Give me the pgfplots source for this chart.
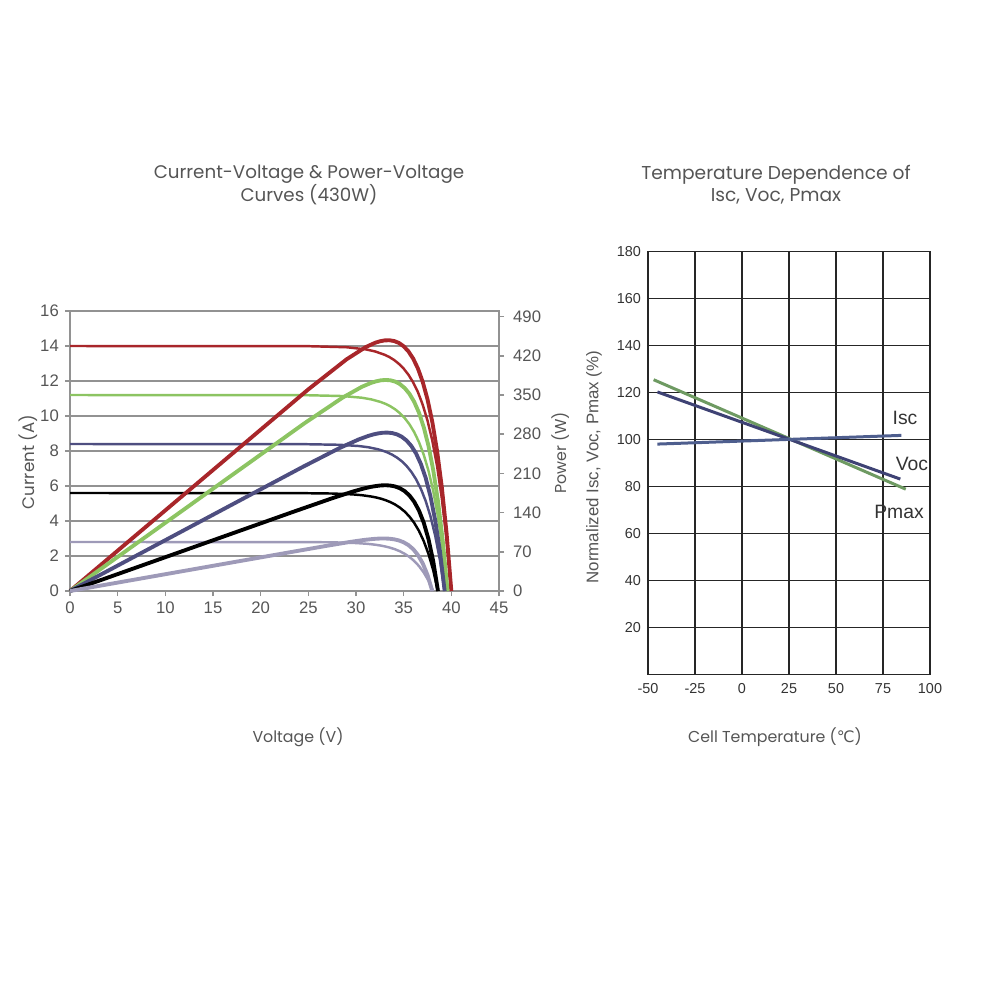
\documentclass[border=0pt]{standalone}
\usepackage{fontspec}
\setmainfont{Liberation Sans}
\newfontfamily\gothic{Poppins}
\newfontfamily\djv{DejaVu Sans}
\usepackage{pgfplots}
\pgfplotsset{compat=1.18}

\definecolor{ivred}{HTML}{A8262A}
\definecolor{ivgreen}{HTML}{8CC462}
\definecolor{ivpurple}{HTML}{4E4E80}
\definecolor{ivgray}{HTML}{9E9AB8}
\definecolor{gridgray}{HTML}{929292}
\definecolor{isccol}{HTML}{4E5E8E}
\definecolor{voccol}{HTML}{3E4274}
\definecolor{pmaxcol}{HTML}{6E9A62}
\definecolor{txt}{HTML}{555555}

\begin{document}
\begin{tikzpicture}
\useasboundingbox (0,0) rectangle (200mm,-200mm);

% ---------- left chart: current axis ----------
\begin{axis}[at={(14mm,-118.2mm)}, anchor=south west, scale only axis,
  width=85.8mm, height=56mm,
  xmin=0, xmax=45, ymin=0, ymax=16,
  xtick={0,5,...,45}, ytick={0,2,...,16},
  xtick pos=bottom, ytick pos=left, tick align=outside,
  major tick length=1mm,
  every tick/.style={gridgray, line width=0.3mm},
  ymajorgrids, grid style={gridgray, line width=0.3mm},
  axis line style={gridgray, line width=0.3mm},
  /pgf/number format/assume math mode=true,
  tick label style={font=\fontsize{9.5}{10}\selectfont, text=txt},
  clip=false]
% I-V curves (thin)
\addplot[ivred, line width=1.4pt] coordinates {(0,14.00) (25,13.99) (29,13.93) (31,13.81) (32,13.69) (33,13.50) (33.5,13.37) (34,13.20) (34.5,12.98) (35,12.71) (35.5,12.36) (36,11.92) (36.5,11.36) (37,10.64) (37.5,9.74) (38,8.60) (38.5,7.15) (39,5.30) (39.5,2.97) (40,0)};
\addplot[ivgreen, line width=1.4pt] coordinates {(0,11.2) (24.6,11.191) (28.6,11.141) (30.6,11.045) (31.6,10.951) (32.6,10.800) (33.1,10.693) (33.6,10.557) (34.1,10.384) (34.6,10.164) (35.1,9.886) (35.6,9.532) (36.1,9.084) (36.6,8.515) (37.1,7.794) (37.6,6.879) (38.1,5.718) (38.6,4.244) (39.1,2.373) (39.6,0)};
\addplot[ivpurple, line width=1.4pt] coordinates {(0,8.4) (24.3,8.393) (28.3,8.355) (30.3,8.284) (31.3,8.214) (32.3,8.100) (32.8,8.019) (33.3,7.918) (33.8,7.788) (34.3,7.623) (34.8,7.415) (35.3,7.149) (35.8,6.813) (36.3,6.387) (36.8,5.846) (37.3,5.159) (37.8,4.288) (38.3,3.183) (38.8,1.780) (39.3,0)};
\addplot[black, line width=1.4pt] coordinates {(0,5.6) (23.6,5.596) (27.6,5.570) (29.6,5.523) (30.6,5.476) (31.6,5.400) (32.1,5.346) (32.6,5.279) (33.1,5.192) (33.6,5.082) (34.1,4.943) (34.6,4.766) (35.1,4.542) (35.6,4.258) (36.1,3.897) (36.6,3.440) (37.1,2.859) (37.6,2.122) (38.1,1.187) (38.6,0)};
\addplot[ivgray, line width=1.4pt] coordinates {(0,2.8) (23.1,2.798) (27.1,2.785) (29.1,2.761) (30.1,2.738) (31.1,2.700) (31.6,2.673) (32.1,2.639) (32.6,2.596) (33.1,2.541) (33.6,2.472) (34.1,2.383) (34.6,2.271) (35.1,2.129) (35.6,1.949) (36.1,1.720) (36.6,1.429) (37.1,1.061) (37.6,0.593) (38.1,0)};
\end{axis}

% ---------- left chart: power axis ----------
\begin{axis}[at={(14mm,-118.2mm)}, anchor=south west, scale only axis,
  width=85.8mm, height=56mm,
  xmin=0, xmax=45, ymin=0, ymax=500,
  hide x axis, axis y line*=right,
  ytick={0,70,...,490}, tick align=outside,
  major tick length=1mm,
  every tick/.style={gridgray, line width=0.3mm},
  axis line style={gridgray, line width=0.3mm},
  /pgf/number format/assume math mode=true,
  yticklabel style={font=\fontsize{9.5}{10}\selectfont, text=txt, xshift=0.6mm},
  clip=false]
% P-V curves (thick)
\addplot[ivred, line width=2.2pt] coordinates {(0,0) (25,360.1) (29,413.6) (31,435.4) (32,443.2) (32.5,445.9) (33,447.5) (33.5,447.8) (34,446.4) (34.5,443.0) (35,437.0) (35.5,427.9) (36,414.9) (36.5,397.1) (37,373.4) (37.5,342.3) (38,302.2) (38.5,250.8) (39,185.7) (39.5,103.4) (40,0)};
\addplot[ivgreen, line width=2.2pt] coordinates {(0,0) (24.6,299.6) (28.6,345.4) (30.6,364.5) (31.6,371.8) (32.1,374.4) (32.6,376.2) (33.1,376.9) (33.6,376.3) (34.1,374.0) (34.6,369.6) (35.1,362.5) (35.6,352.3) (36.1,338.0) (36.6,318.6) (37.1,292.9) (37.6,259.4) (38.1,216.0) (38.6,160.5) (39.1,89.7) (39.6,0)};
\addplot[ivpurple, line width=2.2pt] coordinates {(0,0) (24.3,220.6) (28.3,255.5) (30.3,270.8) (31.3,277.0) (31.8,279.5) (32.3,281.4) (32.8,282.6) (33.3,282.9) (33.8,282.0) (34.3,279.7) (34.8,275.4) (35.3,268.8) (35.8,259.1) (36.3,245.6) (36.8,227.1) (37.3,202.5) (37.8,169.8) (38.3,127.1) (38.8,71.7) (39.3,0)};
\addplot[black, line width=2.2pt] coordinates {(0,0) (23.6,142.5) (27.6,166.2) (29.6,177.2) (30.6,182.1) (31.1,184.2) (31.6,186.1) (32.1,187.5) (32.6,188.5) (33.1,188.9) (33.6,188.3) (34.1,186.7) (34.6,183.5) (35.1,178.4) (35.6,170.7) (36.1,159.5) (36.6,143.9) (37.1,122.3) (37.6,92.9) (38.1,53.2) (38.6,0)};
\addplot[ivgray, line width=2.2pt] coordinates {(0,0) (23,69.0) (27,80.9) (29,86.6) (30,89.2) (30.5,90.4) (31,91.5) (31.5,92.4) (32,93.2) (32.5,93.7) (33,93.8) (33.5,93.4) (34,92.3) (34.5,90.3) (35,87.0) (35.5,82.0) (36,74.7) (36.5,64.2) (37,49.4) (37.5,28.7) (38,0)};
\end{axis}

% ---------- right chart ----------
\begin{axis}[at={(129.6mm,-134.9mm)}, anchor=south west, scale only axis,
  width=56.4mm, height=84.56mm,
  xmin=-50, xmax=100, ymin=0, ymax=180,
  xtick={-50,-25,...,100}, ytick={20,40,...,180},
  grid=major, grid style={black!85, line width=0.25mm},
  axis line style={black!85, line width=0.3mm},
  major tick length=0pt,
  /pgf/number format/assume math mode=true,
  tick label style={font=\fontsize{8.2}{9}\selectfont, text=black!80},
  xticklabel style={yshift=-0.6mm},
  yticklabel style={xshift=-0.2mm},
  clip=false]
\addplot[pmaxcol, line width=0.6mm] coordinates {(-47,125.5) (87.1,78.9)};
\addplot[voccol, line width=0.6mm] coordinates {(-45,120.3) (84.2,83.2)};
\addplot[isccol, line width=0.6mm] coordinates {(-45,98.1) (84.8,101.8)};
\end{axis}

% ---------- texts ----------
\node[align=center, text=txt, font={\gothic\fontsize{10.4}{12.6}\selectfont}] at (309*0.2mm,-185*0.2mm) {Current-Voltage \& Power-Voltage\\Curves (430W)};
\node[align=center, text=txt, font={\gothic\fontsize{10.6}{12.6}\selectfont}] at (776*0.2mm,-185*0.2mm) {Temperature Dependence of\\Isc, Voc, Pmax};
\node[rotate=90, text=txt, font={\gothic\fontsize{9.5}{10}\selectfont}] at (28*0.2mm,-462*0.2mm) {Current (A)};
\node[rotate=90, text=txt, font={\gothic\fontsize{9}{10}\selectfont}] at (561*0.2mm,-453*0.2mm) {Power (W)};
\node[text=txt, font={\gothic\fontsize{9}{10}\selectfont}] at (298*0.2mm,-737*0.2mm) {Voltage (V)};
\node[rotate=90, text=txt, font={\fontsize{9.6}{10}\selectfont}] at (594*0.2mm,-467*0.2mm) {Normalized Isc, Voc, Pmax (\%)};
\node[text=txt, font={\gothic\fontsize{9}{10}\selectfont}] at (775*0.2mm,-737*0.2mm) {Cell Temperature ({\djv ℃})};
\node[text=black!80, font={\fontsize{11}{12}\selectfont}] at (905*0.2mm,-418*0.2mm) {Isc};
\node[text=black!80, font={\fontsize{11}{12}\selectfont}] at (912*0.2mm,-464*0.2mm) {Voc};
\node[text=black!80, font={\fontsize{11}{12}\selectfont}] at (899*0.2mm,-512*0.2mm) {Pmax};
\end{tikzpicture}
\end{document}
